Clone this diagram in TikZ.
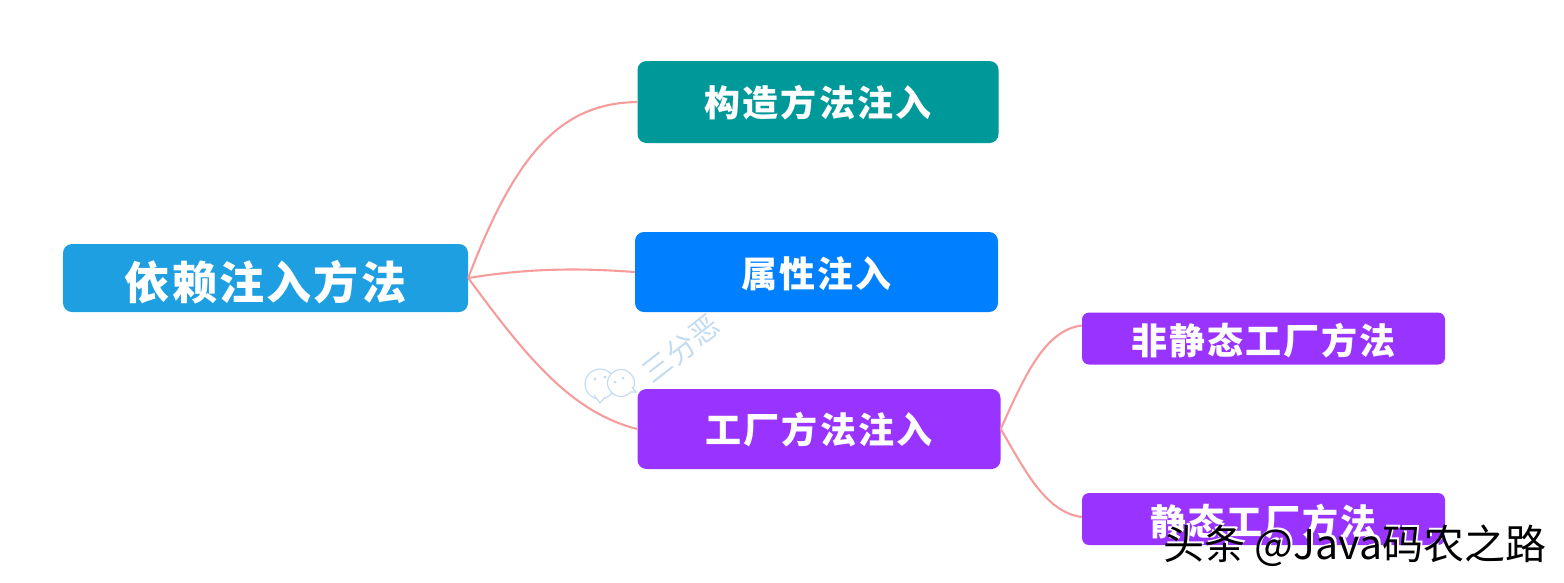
\documentclass[tikz,border=0pt]{standalone}
\usepackage{fontspec}
\usepackage{tikz}
\usetikzlibrary{positioning}
\newfontfamily\cjk{Noto Sans CJK SC}
\definecolor{rootblue}{HTML}{1E9FE2}
\definecolor{tealbox}{HTML}{009999}
\definecolor{bluebox}{HTML}{0080FF}
\definecolor{purplebox}{HTML}{9933FF}
\definecolor{branchred}{HTML}{F79C9C}
\definecolor{markblue}{HTML}{C4DCF2}
\tikzset{
    topic/.style={
           rectangle,
           rounded corners=9pt,
           fill=#1,
           text=white,
           inner sep=0pt,
           text centered,
           font=\cjk\bfseries\fontsize{36}{36}\selectfont\addfontfeature{LetterSpace=6},
           },
    bigtopic/.style={
           topic=#1,
           minimum width=361pt,
           minimum height=82pt,
           },
    smalltopic/.style={
           topic=purplebox,
           rounded corners=7pt,
           minimum width=363pt,
           minimum height=52pt,
           },
    textdrop/.style={
           text height=#1,
           text depth=3pt,
           },
    branch/.style={
           draw=branchred,
           line width=2.1pt,
           },
    bubble/.style={
           draw=markblue,
           line width=1.2pt,
           fill=white,
           },
}

\begin{document}
\begin{tikzpicture}[x=1pt,y=-1pt]

 \useasboundingbox (0,0) rectangle (1564,582);

 % root and first level
 \node[topic=rootblue,minimum width=405pt,minimum height=68pt,textdrop=45.2pt,
       font=\cjk\bfseries\fontsize{45}{45}\selectfont\addfontfeature{LetterSpace=5}] (root) at (265.5,278) {依赖注入方法};
 \node[bigtopic=tealbox,textdrop=32.4pt] (ctor) at (818,102) {构造方法注入};
 \node[bigtopic=bluebox,minimum width=363pt,minimum height=80pt,textdrop=34.4pt] (prop) at (816.5,272) {属性注入};
 \node[bigtopic=purplebox,minimum width=363pt,minimum height=80pt,textdrop=32.4pt] (factory) at (819,429) {工厂方法注入};

 % second level
 \node[smalltopic,textdrop=34.4pt] (nonstatic) at (1263.5,338.5) {非静态工厂方法};
 \node[smalltopic,textdrop=36.4pt] (static) at (1263.5,519) {静态工厂方法};

 % branches
 \draw[branch] (root.east) .. controls (515,155) and (560,103) .. (ctor.west);
 \draw[branch] (root.east) .. controls (530,268) and (580,268) .. (prop.west);
 \draw[branch] (root.east) .. controls (525,355) and (570,412) .. (factory.west);
 \draw[branch] (factory.east) .. controls (1025,375) and (1045,330) .. ([yshift=13pt]nonstatic.west);
 \draw[branch] (factory.east) .. controls (1025,470) and (1045,512) .. ([yshift=2pt]static.west);

 % watermark
 \draw[bubble] (600,384) circle (15pt);
 \draw[bubble] (594,395) -- (600,403) -- (605,397);
 \draw[bubble] (621,383) circle (13.5pt);
 \draw[bubble] (630,392) -- (636,392) -- (632,387);
 \fill[markblue] (595,379) circle (1.6pt) (605,377) circle (1.6pt) (615,382) circle (1.5pt) (623,378) circle (1.5pt);
 \node[text=markblue,rotate=38,font=\cjk\fontsize{29}{29}\selectfont\addfontfeature{LetterSpace=4}] (mark) at (681,349) {三分恶};

 % site mark on top
 \node[text=white,font=\cjk\fontsize{41}{41}\selectfont] (siteshadow) at (1357,544) {头条 @Java码农之路};
 \node[text=black,font=\cjk\fontsize{41}{41}\selectfont] (site) at (1355,546) {头条 @Java码农之路};

\end{tikzpicture}
\end{document}
